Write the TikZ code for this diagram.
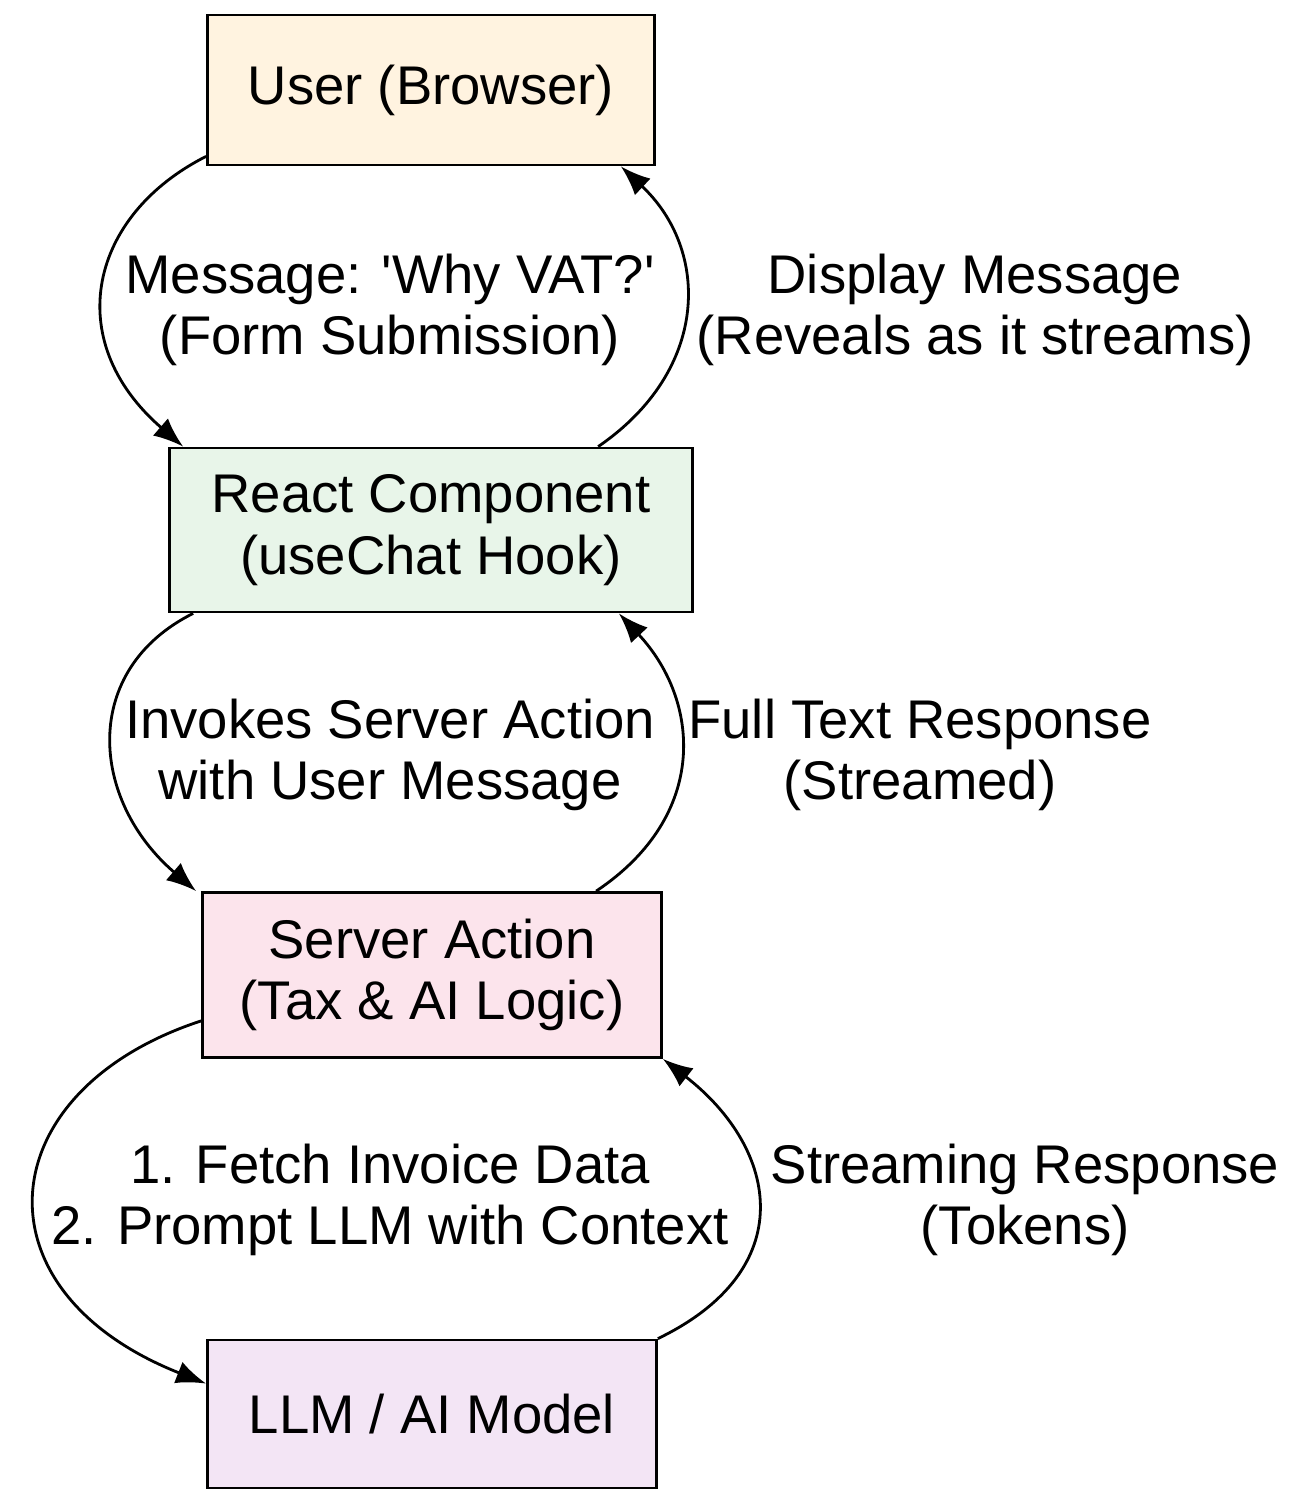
\documentclass[tikz,border=0pt]{standalone}
\usepackage{fontspec}
\setmainfont{Liberation Sans}
\usetikzlibrary{calc,arrows.meta}
\definecolor{userfill}{HTML}{FFF3E0}
\definecolor{reactfill}{HTML}{E8F5E9}
\definecolor{serverfill}{HTML}{FCE4EC}
\definecolor{llmfill}{HTML}{F3E5F5}

\begin{document}
\begin{tikzpicture}[x=0.02cm, y=-0.02cm,
  box/.style={rectangle, draw, line width=1.6pt, align=center, font=\fontsize{31}{35}\selectfont},
  lbl/.style={align=center, font=\fontsize{31}{35}\selectfont},
  flow/.style={line width=1.6pt, arrows={-Latex[length=17pt,width=13pt]}}]
            \useasboundingbox (0, 0) rectangle (1310, 1506);

            \node[box, fill=userfill, minimum width=8.94cm, minimum height=3cm] (user) at (431, 90) {User (Browser)};
            \node[box, fill=reactfill, minimum width=10.46cm, minimum height=3.28cm] (react) at (431, 530) {React Component\\(useChat Hook)};
            \node[box, fill=serverfill, minimum width=9.18cm, minimum height=3.3cm] (server) at (432, 975) {Server Action\\(Tax \& AI Logic)};
            \node[box, fill=llmfill, minimum width=8.98cm, minimum height=2.96cm] (llm) at (432, 1414) {LLM / AI Model};

            \draw[flow] ($(user.south west)+(0,-10)$) .. controls (90, 215) and (60, 340) .. ($(react.north west)+(15,0)$);
            \draw[flow] ($(react.north west)+(430,0)$) .. controls (710, 370) and (710, 250) .. ($(user.south east)+(-35,0)$);
            \draw[flow] ($(react.south west)+(25,0)$) .. controls (80, 670) and (90, 800) .. ($(server.north west)+(-5,0)$);
            \draw[flow] ($(server.north west)+(395,0)$) .. controls (710, 815) and (700, 700) .. ($(react.south east)+(-75,0)$);
            \draw[flow] ($(server.south west)+(0,-38)$) .. controls (-10, 1090) and (-30, 1290) .. ($(llm.north west)+(0,45)$);
            \draw[flow] ($(llm.north east)+(0,0)$) .. controls (800, 1270) and (780, 1150) .. ($(server.south east)+(0,0)$);

            \node[lbl] (l1) at (390, 310) {Message: \textquotesingle Why VAT?\textquotesingle\\(Form Submission)};
            \node[lbl] (l2) at (975, 310) {Display Message\\(Reveals as it streams)};
            \node[lbl] (l3) at (390, 755) {Invokes Server Action\\with User Message};
            \node[lbl] (l4) at (920, 755) {Full Text Response\\(Streamed)};
            \node[lbl] (l5) at (390, 1200) {1. Fetch Invoice Data\\2. Prompt LLM with Context};
            \node[lbl] (l6) at (1025, 1200) {Streaming Response\\(Tokens)};
\end{tikzpicture}
\end{document}
